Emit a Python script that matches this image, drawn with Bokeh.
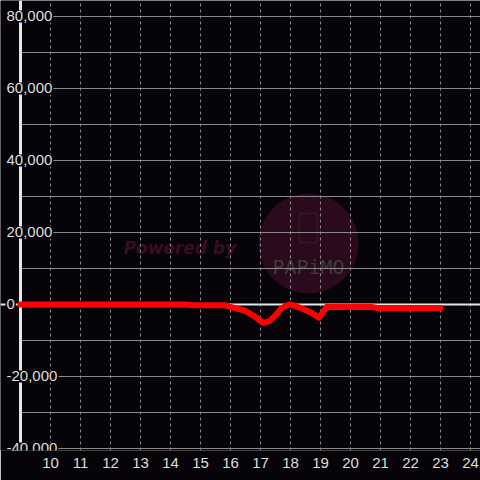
from bokeh.plotting import figure
from bokeh.models import Span, Label, BoxAnnotation, FixedTicker, Range1d
from bokeh.embed import file_html
from bokeh.resources import INLINE

# ---- data ----
hours = [9, 10, 11, 12, 13, 14, 14.5, 14.75, 15, 15.5, 15.83, 16, 16.25, 16.5, 16.75,
         17, 17.1, 17.3, 17.5, 17.7, 17.95, 18.1, 18.4, 18.7, 18.95, 19.2, 19.5, 20,
         20.5, 20.7, 20.9, 21, 22, 23]
values = [0, 0, 0, 0, 0, 0, 0, -200, -200, -200, -200, -700, -1200, -1800, -3000,
          -4500, -5100, -4600, -3000, -1000, 0, -200, -1200, -2300, -3700, -700, -700, -700,
          -700, -700, -950, -950, -950, -950]

x_ticks = list(range(10, 25))
y_grid_ticks = list(range(-40000, 80001, 10000))
y_label_ticks = [-40000, -20000, 0, 20000, 40000, 60000, 80000]
y_label_texts = ["-40,000", "-20,000", "0", "20,000", "40,000", "60,000", "80,000"]

BG = "#060408"
GRID = "#8a8a8a"
TXT = "#dddddd"

p = figure(width=480, height=480, output_backend="svg", toolbar_location=None,
           x_range=Range1d(8.3333, 24.3333), y_range=Range1d(-40556, 84444),
           y_axis_location=None, min_border=0, min_border_bottom=30,
           background_fill_color=BG, border_fill_color=BG, outline_line_color=None)

# grids
p.xgrid.ticker = FixedTicker(ticks=x_ticks)
p.xgrid.grid_line_color = GRID
p.xgrid.grid_line_dash = "3 3"
p.xgrid.grid_line_width = 1
p.ygrid.ticker = FixedTicker(ticks=y_grid_ticks)
p.ygrid.grid_line_color = GRID
p.ygrid.grid_line_width = 1

# x axis
p.xaxis.ticker = FixedTicker(ticks=x_ticks)
p.xaxis.axis_line_color = None
p.xaxis.major_tick_line_color = None
p.xaxis.minor_tick_line_color = None
p.xaxis.major_label_text_color = TXT
p.xaxis.major_label_text_font = "Liberation Sans"
p.xaxis.major_label_text_font_size = "15px"
p.xaxis.major_label_standoff = 1

# watermark (under grid); screen units are relative to the frame
p.add_layout(BoxAnnotation(left=258, right=358, top=257, bottom=157,
                           left_units="screen", right_units="screen",
                           top_units="screen", bottom_units="screen",
                           border_radius=50, fill_color="#2c0a1d", fill_alpha=1,
                           line_color=None, level="image", editable=False))
p.add_layout(BoxAnnotation(left=299, right=317, top=237, bottom=208,
                           left_units="screen", right_units="screen",
                           top_units="screen", bottom_units="screen",
                           border_radius=3, fill_alpha=0,
                           line_color="#3c3c3c", line_width=2, level="image"))
p.add_layout(Label(x=123, y=203, x_units="screen", y_units="screen", text="Powered by",
                   text_font="DejaVu Sans", text_font_style="bold italic",
                   text_font_size="17px", text_color="#3b0d21", text_baseline="alphabetic",
                   level="image"))
p.add_layout(Label(x=308, y=184, x_units="screen", y_units="screen", text="PAPiMO",
                   text_font="DejaVu Sans Mono", text_font_size="20px",
                   text_color="#3c3c3c", text_align="center", text_baseline="alphabetic",
                   level="image"))

# mask grid lines left of the y axis line
p.add_layout(BoxAnnotation(left=0, right=19, left_units="screen", right_units="screen",
                           fill_color=BG, fill_alpha=1, line_color=None,
                           level="underlay", editable=False))

# zero line and y axis line
p.add_layout(Span(location=0, dimension="width", line_color="#e6e6e6", line_width=2,
                  level="underlay"))
p.add_layout(Span(location=9, dimension="height", line_color="#e6e6e6", line_width=3,
                  level="underlay"))

# series
p.line(hours, values, line_color="#ff0000", line_width=6, line_join="round",
       line_cap="round")

# y labels with background
for v, t in zip(y_label_ticks, y_label_texts):
    p.add_layout(Label(x=5, y=v, x_units="screen", text=t, text_align="left",
                       text_baseline="middle", text_color=TXT,
                       text_font="Liberation Sans", text_font_size="15px",
                       background_fill_color=BG, background_fill_alpha=1, padding=1))

open("out.html", "w").write(file_html(p, INLINE))
